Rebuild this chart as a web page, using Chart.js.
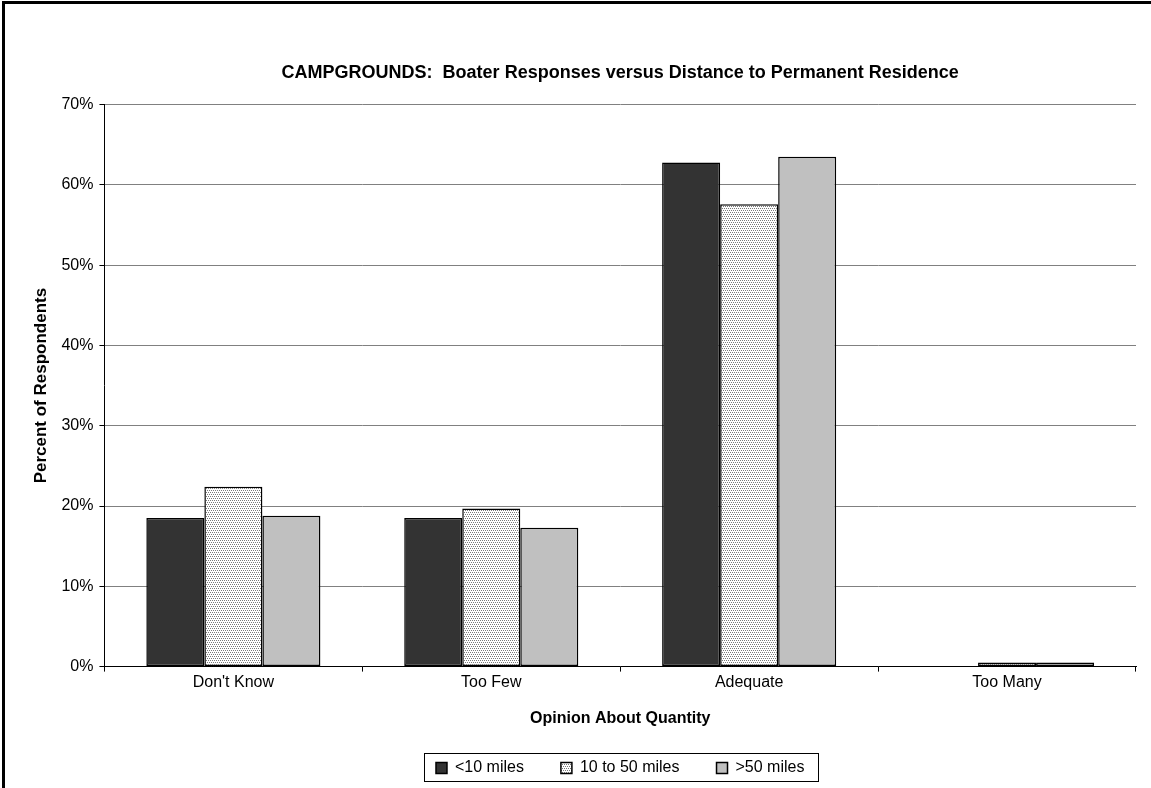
<!DOCTYPE html>
<html lang="en">
<head>
  <meta charset="UTF-8" />
  <title>Campgrounds: Boater Responses</title>
  <script src="https://cdn.jsdelivr.net/npm/chart.js"></script>
  <style>
    html, body {
      margin: 0;
      padding: 0;
      background: #ffffff;
    }
    .chart-box {
      position: relative;
      width: 1151px;
      height: 788px;
      overflow: hidden;
    }
    .frame {
      position: absolute;
      left: 2px;
      top: 1px;
      right: -10px;
      bottom: -10px;
      border-left: 3px solid #000;
      border-top: 3px solid #000;
      pointer-events: none;
    }
  </style>
</head>
<body>
  <div class="chart-box">
    <canvas id="campChart" width="1151" height="788"></canvas>
    <div class="frame"></div>
  </div>

  <script>
    // data (percent of respondents)
    const categories = ["Don't Know", 'Too Few', 'Adequate', 'Too Many'];
    const seriesNames = ['<10 miles', '10 to 50 miles', '>50 miles'];
    const under10 = [18.5, 18.5, 62.8, 0];
    const from10to50 = [22.4, 19.7, 57.6, 0.5];
    const over50 = [18.8, 17.3, 63.5, 0.5];
    const yTicks = [0, 10, 20, 30, 40, 50, 60, 70];

    const FONT = "'Liberation Sans', Arial, Helvetica, sans-serif";

    // small dotted fill, like the old spreadsheet pattern
    function dotPattern() {
      const c = document.createElement('canvas');
      c.width = 4;
      c.height = 4;
      const g = c.getContext('2d');
      g.fillStyle = '#ffffff';
      g.fillRect(0, 0, 4, 4);
      g.fillStyle = '#7a7a7a';
      g.fillRect(0, 0, 1, 1);
      g.fillRect(2, 0, 1, 1);
      g.fillRect(1, 2, 1, 1);
      g.fillRect(3, 2, 1, 1);
      return g.createPattern(c, 'repeat');
    }

    // box round the legend items
    const legendFrame = {
      id: 'legendFrame',
      afterDraw(chart) {
        const boxes = chart.legend && chart.legend.legendHitBoxes;
        if (!boxes || !boxes.length) return;
        const first = boxes[0], last = boxes[boxes.length - 1];
        const x1 = first.left - 12;
        const x2 = last.left + last.width + 14;
        const y1 = first.top - 7;
        const y2 = first.top + first.height + 5;
        const ctx = chart.ctx;
        ctx.save();
        ctx.strokeStyle = '#000';
        ctx.lineWidth = 1;
        ctx.strokeRect(Math.round(x1) + 0.5, Math.round(y1) + 0.5, Math.round(x2 - x1), Math.round(y2 - y1));
        ctx.restore();
      }
    };

    const barStyle = { borderColor: '#000', borderWidth: 1.5, borderSkipped: false };

    new Chart(document.getElementById('campChart'), {
      type: 'bar',
      data: {
        labels: categories,
        datasets: [
          { label: seriesNames[0], data: under10, backgroundColor: '#333333', ...barStyle },
          { label: seriesNames[1], data: from10to50, backgroundColor: dotPattern(), ...barStyle },
          { label: seriesNames[2], data: over50, backgroundColor: '#c0c0c0', ...barStyle }
        ]
      },
      options: {
        responsive: false,
        animation: false,
        datasets: {
          bar: { categoryPercentage: 0.675, barPercentage: 1 }
        },
        layout: {
          padding: { top: 0, left: 31, right: 15, bottom: 2 }
        },
        plugins: {
          title: {
            display: true,
            fullSize: false,
            text: 'CAMPGROUNDS:  Boater Responses versus Distance to Permanent Residence',
            color: '#000',
            font: { family: FONT, size: 18, weight: 'bold' },
            padding: { top: 62, bottom: 21 }
          },
          legend: {
            position: 'bottom',
            fullSize: false,
            labels: {
              color: '#000',
              font: { family: FONT, size: 16 },
              boxWidth: 11,
              boxHeight: 11,
              padding: 37
            }
          },
          tooltip: { enabled: false }
        },
        scales: {
          x: {
            grid: {
              display: true,
              drawOnChartArea: false,
              drawTicks: true,
              tickLength: 5,
              tickColor: '#000',
              offset: true
            },
            border: { color: '#000', width: 1 },
            ticks: {
              color: '#000',
              font: { family: FONT, size: 16 },
              padding: 1
            },
            title: {
              display: true,
              text: 'Opinion About Quantity',
              color: '#000',
              font: { family: FONT, size: 16, weight: 'bold' },
              padding: { top: 16, bottom: -5 }
            }
          },
          y: {
            min: 0,
            max: 70,
            afterBuildTicks(axis) {
              axis.ticks = yTicks.map(v => ({ value: v }));
            },
            grid: {
              color: '#808080',
              lineWidth: 1,
              tickLength: 5,
              tickColor: '#000'
            },
            border: { color: '#000', width: 1 },
            ticks: {
              color: '#000',
              font: { family: FONT, size: 16 },
              padding: 6,
              callback: v => v + '%'
            },
            title: {
              display: true,
              text: 'Percent of Respondents',
              color: '#000',
              font: { family: FONT, size: 17, weight: 'bold' },
              padding: { top: 0, bottom: 4 }
            }
          }
        }
      },
      plugins: [legendFrame]
    });
  </script>
</body>
</html>
